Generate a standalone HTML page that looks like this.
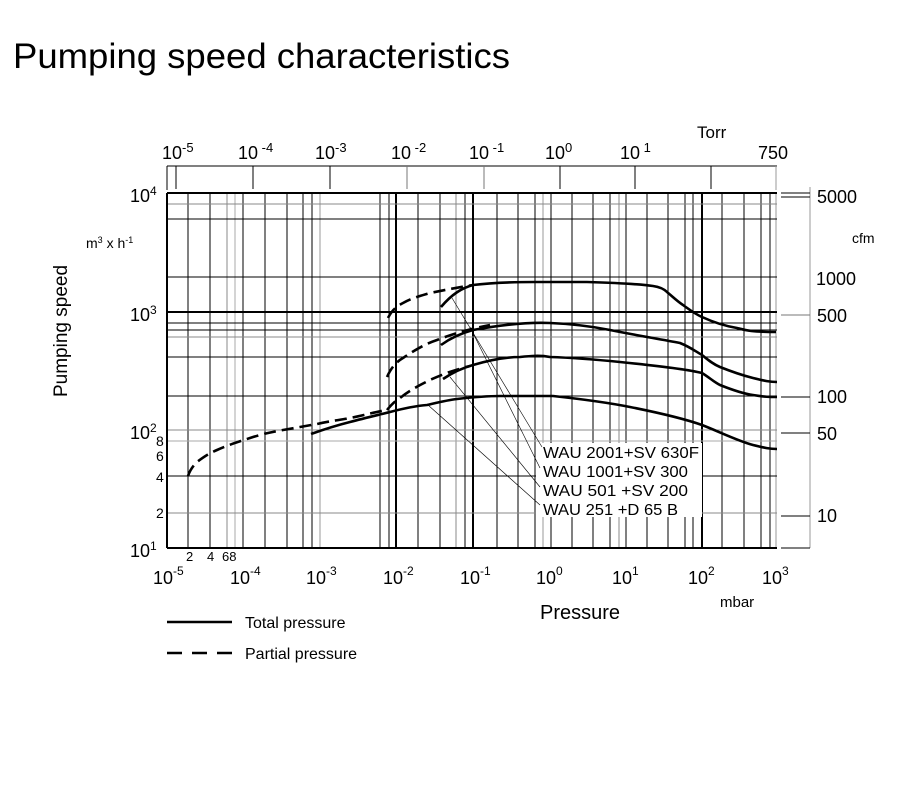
<!DOCTYPE html>
<html><head><meta charset="utf-8"><style>
html,body{margin:0;padding:0;background:#fff;}
svg{display:block;font-family:"Liberation Sans",Arial,sans-serif;}
</style></head><body>
<svg width="900" height="787" viewBox="0 0 900 787" xmlns="http://www.w3.org/2000/svg">
<rect width="900" height="787" fill="#fff"/>
<text x="13" y="68" font-size="35" textLength="497" lengthAdjust="spacingAndGlyphs" fill="#000">Pumping speed characteristics</text>

<g stroke="#000" stroke-width="1">
<line x1="167" y1="166" x2="777" y2="166"/>
<line x1="167" y1="166" x2="167" y2="190"/>
<line x1="176" y1="166" x2="176" y2="189"/>
<line x1="253" y1="166" x2="253" y2="189"/>
<line x1="330" y1="166" x2="330" y2="189"/>
<line x1="407" y1="166" x2="407" y2="189" stroke="#777"/>
<line x1="484" y1="166" x2="484" y2="189" stroke="#777"/>
<line x1="560" y1="166" x2="560" y2="189"/>
<line x1="635" y1="166" x2="635" y2="189"/>
<line x1="711" y1="166" x2="711" y2="189"/>
<line x1="776" y1="166" x2="776" y2="190" stroke="#999"/>
</g>
<g font-size="18" fill="#000">
<text x="162" y="159">10<tspan font-size="13" dy="-7">-5</tspan></text>
<text x="238" y="159">10<tspan font-size="13" dy="-7"> -4</tspan></text>
<text x="315" y="159">10<tspan font-size="13" dy="-7">-3</tspan></text>
<text x="391" y="159">10<tspan font-size="13" dy="-7"> -2</tspan></text>
<text x="469" y="159">10<tspan font-size="13" dy="-7"> -1</tspan></text>
<text x="545" y="159">10<tspan font-size="13" dy="-7">0</tspan></text>
<text x="620" y="159">10<tspan font-size="13" dy="-7"> 1</tspan></text>
<text x="697" y="138" font-size="17">Torr</text>
<text x="758" y="159">750</text>
</g>

<g stroke="#000" stroke-width="1">
<line x1="188" y1="193" x2="188" y2="548"/><line x1="210" y1="193" x2="210" y2="548"/>
<line x1="227" y1="193" x2="227" y2="548" stroke="#888"/><line x1="235" y1="193" x2="235" y2="548" stroke="#aaa"/>
<line x1="243" y1="193" x2="243" y2="548"/><line x1="265" y1="193" x2="265" y2="548"/>
<line x1="287" y1="193" x2="287" y2="548"/><line x1="303" y1="193" x2="303" y2="548"/>
<line x1="312" y1="193" x2="312" y2="548"/><line x1="320" y1="193" x2="320" y2="548" stroke="#999"/>
<line x1="380" y1="193" x2="380" y2="548"/><line x1="389" y1="193" x2="389" y2="548"/>
<line x1="396" y1="193" x2="396" y2="548" stroke-width="2"/>
<line x1="418" y1="193" x2="418" y2="548"/><line x1="440" y1="193" x2="440" y2="548"/>
<line x1="456" y1="193" x2="456" y2="548" stroke="#888"/><line x1="465" y1="193" x2="465" y2="548"/>
<line x1="473" y1="193" x2="473" y2="548" stroke-width="2"/>
<line x1="497" y1="193" x2="497" y2="548"/><line x1="518" y1="193" x2="518" y2="548"/>
<line x1="535" y1="193" x2="535" y2="548"/><line x1="543" y1="193" x2="543" y2="548" stroke="#999"/>
<line x1="551" y1="193" x2="551" y2="548"/><line x1="572" y1="193" x2="572" y2="548"/>
<line x1="593" y1="193" x2="593" y2="548"/><line x1="610" y1="193" x2="610" y2="548"/>
<line x1="619" y1="193" x2="619" y2="548" stroke="#888"/><line x1="626" y1="193" x2="626" y2="548"/>
<line x1="647" y1="193" x2="647" y2="548"/><line x1="668" y1="193" x2="668" y2="548"/>
<line x1="685" y1="193" x2="685" y2="548"/><line x1="693" y1="193" x2="693" y2="548"/>
<line x1="702" y1="193" x2="702" y2="548" stroke-width="2"/>
<line x1="722" y1="193" x2="722" y2="548"/><line x1="744" y1="193" x2="744" y2="548"/>
<line x1="761" y1="193" x2="761" y2="548"/><line x1="770" y1="193" x2="770" y2="548"/>
<line x1="776" y1="193" x2="776" y2="548" stroke="#999"/>
<line x1="167" y1="204" x2="777" y2="204" stroke="#888"/>
<line x1="167" y1="219" x2="777" y2="219"/>
<line x1="167" y1="277" x2="777" y2="277"/>
<line x1="167" y1="312" x2="777" y2="312" stroke-width="2"/>
<line x1="167" y1="323" x2="777" y2="323"/>
<line x1="167" y1="330" x2="777" y2="330"/>
<line x1="167" y1="337" x2="777" y2="337" stroke="#888"/>
<line x1="167" y1="357" x2="777" y2="357"/>
<line x1="167" y1="396" x2="777" y2="396"/>
<line x1="167" y1="430" x2="777" y2="430" stroke="#888"/>
<line x1="167" y1="441" x2="777" y2="441" stroke="#aaa"/>
<line x1="167" y1="476" x2="777" y2="476"/>
<line x1="167" y1="513" x2="777" y2="513" stroke="#888"/>
<line x1="167" y1="193" x2="777" y2="193" stroke-width="2"/>
<line x1="167" y1="548" x2="777" y2="548" stroke-width="2"/>
<line x1="167" y1="193" x2="167" y2="548" stroke-width="2"/>
</g>

<rect x="536" y="443" width="166" height="74" fill="#fff"/>

<g stroke="#000" stroke-width="0.6" fill="none">
<line x1="452" y1="298" x2="542" y2="447"/>
<line x1="470" y1="327" x2="540" y2="468"/>
<line x1="450" y1="377" x2="540" y2="487"/>
<line x1="428" y1="405" x2="540" y2="505"/>
</g>

<g stroke="#000" stroke-width="2.6" fill="none" stroke-linejoin="round">
<path d="M441,307 C452,294 462,288 473,285 C490,283 510,282 535,282 L587,282 C620,283 640,284 653,286 C660,287 664,289 667,292 C673,297 677,301 683,305 C690,310 695,314 702,317 C715,323 725,326 737,328 C745,330 750,332 776,332"/>
<path d="M441,345 C452,337 462,333 473,330 C500,325 525,322 550,323 C575,324 595,327 610,330 C640,336 660,339 680,343 C690,347 695,351 702,355 C708,360 713,364 720,367 C735,373 745,376 753,378 C765,381 770,382 777,382"/>
<path d="M443,379 C452,373 462,368 473,365 C490,360 505,357 520,357 C530,356 540,355 550,357 C580,358 600,360 620,362 C660,366 690,370 702,373 C710,378 714,382 720,385 C735,391 745,394 753,395 C765,397 770,397 777,397"/>
<path d="M311,434 C325,429 338,425 350,422 C365,418 378,415 390,412 C405,408 415,406 427,405 C440,402 448,400 457,399 C475,397 490,396 500,396 L553,396 C590,400 610,403 630,407 C660,413 685,419 702,425 C720,432 738,441 753,445 C765,448 770,449 777,449"/>
</g>
<g stroke="#000" stroke-width="2.6" fill="none" stroke-dasharray="12,6">
<path d="M388,318 C392,310 397,306 403,303 C412,298 420,296 430,293 C445,290 460,287 473,285"/>
<path d="M387,377 C391,368 396,362 403,358 C415,350 425,344 437,340 C455,333 470,329 490,325"/>
<path d="M387,410 C391,405 395,401 400,398 C410,390 420,385 430,380 C445,373 458,369 470,366"/>
<path d="M188,476 C190,470 193,466 197,462 C205,456 210,453 217,450 C228,445 238,442 250,438 C262,434 272,432 283,430 C295,428 305,426 317,424 C330,421 340,420 350,418 C365,415 375,412 387,410"/>
</g>

<g font-size="16" fill="#000" xml:space="preserve">
<text x="543" y="458" textLength="156" lengthAdjust="spacingAndGlyphs">WAU 2001+SV 630F</text>
<text x="543" y="477" textLength="145" lengthAdjust="spacingAndGlyphs">WAU 1001+SV 300</text>
<text x="543" y="496" textLength="145" lengthAdjust="spacingAndGlyphs">WAU 501  +SV 200</text>
<text x="543" y="515" textLength="135" lengthAdjust="spacingAndGlyphs">WAU 251  +D 65 B</text>
</g>

<g stroke="#000" stroke-width="1">
<line x1="810" y1="187" x2="810" y2="548" stroke="#999"/>
<line x1="781" y1="193" x2="810" y2="193"/>
<line x1="781" y1="197" x2="810" y2="197"/>
<line x1="781" y1="315" x2="810" y2="315" stroke="#777"/>
<line x1="781" y1="397" x2="810" y2="397"/>
<line x1="781" y1="433" x2="810" y2="433"/>
<line x1="781" y1="516" x2="810" y2="516"/>
<line x1="781" y1="548" x2="810" y2="548"/>
</g>
<g font-size="18" fill="#000">
<text x="817" y="203">5000</text>
<text x="852" y="243" font-size="14">cfm</text>
<text x="816" y="285">1000</text>
<text x="817" y="322">500</text>
<text x="817" y="403">100</text>
<text x="817" y="440">50</text>
<text x="817" y="522">10</text>
</g>

<g fill="#000">
<text x="130" y="202" font-size="18">10<tspan font-size="12" dy="-7">4</tspan></text>
<text x="130" y="321" font-size="18">10<tspan font-size="12" dy="-7">3</tspan></text>
<text x="130" y="439" font-size="18">10<tspan font-size="12" dy="-7">2</tspan></text>
<text x="130" y="557" font-size="18">10<tspan font-size="12" dy="-7">1</tspan></text>
<text x="156" y="446" font-size="14">8</text>
<text x="156" y="461" font-size="14">6</text>
<text x="156" y="482" font-size="14">4</text>
<text x="156" y="518" font-size="14">2</text>
<text x="86" y="248" font-size="14">m<tspan font-size="9" dy="-5">3</tspan><tspan dy="5"> x h</tspan><tspan font-size="9" dy="-5">-1</tspan></text>
<text transform="translate(67,331) rotate(-90)" text-anchor="middle" font-size="19">Pumping speed</text>
</g>

<g fill="#000" font-size="18">
<text x="186" y="561" font-size="13">2</text>
<text x="207" y="561" font-size="13">4</text>
<text x="222" y="561" font-size="13">68</text>
<text x="153" y="584">10<tspan font-size="12" dy="-9">-5</tspan></text>
<text x="230" y="584">10<tspan font-size="12" dy="-9">-4</tspan></text>
<text x="306" y="584">10<tspan font-size="12" dy="-9">-3</tspan></text>
<text x="383" y="584">10<tspan font-size="12" dy="-9">-2</tspan></text>
<text x="460" y="584">10<tspan font-size="12" dy="-9">-1</tspan></text>
<text x="536" y="584">10<tspan font-size="12" dy="-9">0</tspan></text>
<text x="612" y="584">10<tspan font-size="12" dy="-9">1</tspan></text>
<text x="688" y="584">10<tspan font-size="12" dy="-9">2</tspan></text>
<text x="762" y="584">10<tspan font-size="12" dy="-9">3</tspan></text>
<text x="720" y="607" font-size="15">mbar</text>
<text x="540" y="619" font-size="20">Pressure</text>
</g>

<line x1="167" y1="622" x2="232" y2="622" stroke="#000" stroke-width="2.6"/>
<line x1="167" y1="653" x2="232" y2="653" stroke="#000" stroke-width="2.6" stroke-dasharray="15,10"/>
<g fill="#000" font-size="16">
<text x="245" y="628">Total pressure</text>
<text x="245" y="659">Partial pressure</text>
</g>
</svg>
</body></html>
